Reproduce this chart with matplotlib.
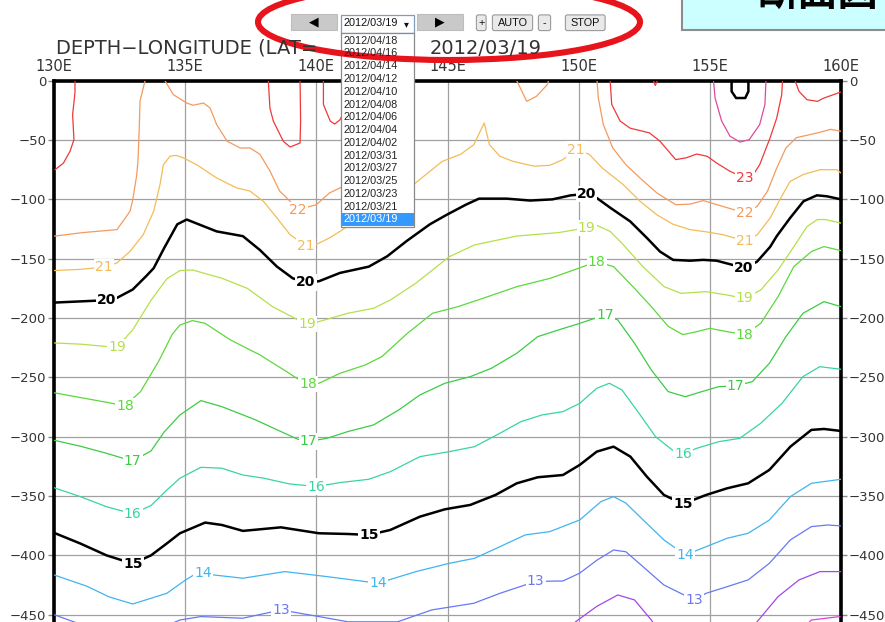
import numpy as np
import matplotlib
matplotlib.use("Agg")
import matplotlib.pyplot as plt
from matplotlib.patches import Rectangle, Ellipse, FancyBboxPatch

# isotherm depths (m) along the section, longitude in deg E
lon_11 = [158.2, 158.87, 159.96]
dep_11 = [-470, -454.5, -451.6]

lon_12 = [149.3, 149.88, 150.69, 151.49, 152.13, 152.77, 153.3, 154.5, 155.5, 156.2, 156.8, 157.6, 158.4, 159.2, 160]
dep_12 = [-475, -456, -443, -433.4, -437.6, -454.5, -472, -485, -486, -478, -456, -434.8, -420.7, -413.7, -413.7]

lon_13 = [130, 131, 132, 133, 134, 134.8, 135.6, 137.2, 138.65, 140.1, 141.2, 143.1, 144.4, 146.0, 147.0, 148.36,
          149.4, 150.04, 150.7, 151.33, 151.8, 152.45, 153.25, 154.4, 154.86, 155.66, 156.46, 157.27, 158.07, 158.87,
          159.5, 160]
dep_13 = [-450, -458, -466, -469, -462, -454.5, -451.6, -453, -446, -451.6, -456, -456, -446, -440.4, -432, -422,
          -421.6, -415, -404, -395.5, -397, -409.5, -425, -437.6, -432, -426.4, -420.7, -406.7, -387, -375.8,
          -374.4, -375.2]

lon_14 = [130, 131.25, 132.1, 133.0, 134.3, 135.0, 135.44, 135.68, 136.08, 137.2, 138.8, 140.4, 142.35, 143.8,
          145.07, 146.03, 147.0, 147.96, 148.9, 150.04, 150.85, 151.33, 151.8, 152.45, 153.25, 154.06, 154.86,
          155.66, 156.46, 157.27, 158.07, 158.87, 160]
dep_14 = [-416.5, -426, -435, -441, -432, -421, -415, -414.6, -416.5, -419.3, -413.7, -417.9, -423.5, -413.7,
          -406.7, -402.5, -392.7, -382.8, -380, -370.2, -354.7, -350.5, -356, -370, -387, -399.7, -392.7,
          -385.6, -381.4, -370.2, -350.5, -339.3, -335.9]

lon_15 = [130, 131, 132, 133, 133.7, 134.3, 134.8, 135.76, 136.4, 137.2, 138.65, 140.1, 141.2, 142.0, 142.82,
          143.95, 144.9, 145.87, 146.83, 147.64, 148.44, 149.4, 150.04, 150.69, 151.33, 151.97, 152.6, 153.25,
          153.97, 154.86, 155.66, 156.46, 157.27, 158.07, 158.87, 159.35, 160]
dep_15 = [-381, -390, -400, -407, -400, -390, -381.4, -372.4, -374.4, -379.4, -376.4, -381.4, -382, -382.8, -378.6,
          -367.4, -361.2, -357.5, -349.1, -339.3, -334.2, -332.3, -323.8, -312.6, -308.4, -316.8, -333.7, -349.1,
          -356.7, -349.1, -343.5, -339.3, -328, -308.4, -294.3, -293.5, -295.2]

lon_16 = [130, 131, 132, 133, 133.7, 134.3, 134.8, 135.6, 136.4, 137.2, 138.0, 138.97, 140.0, 140.9, 142.0,
          142.82, 143.95, 145.07, 146.03, 147.0, 147.8, 148.6, 149.4, 150.04, 150.69, 151.17, 151.65, 152.3,
          152.93, 153.57, 153.97, 154.5, 155.34, 156.14, 156.94, 157.75, 158.55, 159.19, 160]
dep_16 = [-343, -350.5, -359, -365, -358, -345, -335, -325.8, -326.6, -332.3, -335, -339.8, -342, -338.7, -335.9,
          -329.5, -316.8, -312.6, -308.4, -297.1, -287.3, -281.7, -278.9, -271.9, -259.2, -255, -260.6, -280.3,
          -300, -311.2, -314.6, -309.8, -304.2, -301.4, -288.7, -271.9, -249.4, -241, -243.2]

lon_17 = [130, 131, 132, 133, 133.7, 134.2, 134.8, 135.6, 136.4, 137.69, 138.65, 139.3, 139.7, 140.4, 141.2,
          142.18, 143.14, 143.95, 144.9, 145.87, 146.67, 147.64, 148.44, 149.24, 150.04, 151.0, 151.49, 152.13,
          152.77, 153.41, 154.06, 154.7, 155.34, 155.98, 156.62, 157.27, 157.9, 158.55, 159.35, 160]
dep_17 = [-303, -308, -314, -320.6, -312, -296, -281.7, -269.6, -274.7, -285.9, -295.7, -302.2, -304, -301.4,
          -295.7, -290.1, -277.5, -264.8, -255, -249.4, -242.4, -229.7, -215.7, -210, -204.5, -197.4, -201.6,
          -221.3, -243.8, -262, -266.3, -262, -257.8, -257.3, -253.6, -238.2, -215.7, -196, -186.2, -190.4]

lon_18 = [130, 131, 132, 132.7, 133.3, 134.0, 134.5, 134.8, 135.28, 135.76, 136.73, 137.85, 138.97, 139.45, 139.7,
          140.1, 140.9, 141.86, 142.5, 143.47, 144.43, 145.4, 146.35, 147.64, 148.92, 149.88, 150.69, 151.33,
          152.13, 152.77, 153.41, 153.97, 154.5, 155.0, 155.66, 156.33, 156.94, 157.6, 158.2, 158.87, 159.35, 160]
dep_18 = [-263, -267, -271, -274, -262, -236, -214, -205.9, -202.2, -204.5, -218.5, -231.1, -246.6, -253.6, -255.6,
          -255, -246.6, -239.6, -232.5, -212.9, -196, -190.4, -183.4, -173.6, -166.5, -159, -152.5, -156.7,
          -175, -190.4, -207, -214, -211.5, -208.7, -211.5, -214, -204.5, -182, -156.7, -144, -139.8, -143.2]

lon_19 = [130, 131, 132, 132.4, 133, 133.7, 134.3, 134.8, 135.28, 136.4, 137.37, 138.33, 139.3, 139.66, 140.1,
          141.2, 142.18, 142.82, 143.79, 144.75, 145.07, 146.03, 147.64, 149.24, 150.3, 150.7, 151.2, 151.65,
          152.45, 153.25, 153.9, 154.86, 155.66, 156.33, 156.94, 157.6, 158.2, 158.7, 159.1, 159.4, 160]
dep_19 = [-221, -222, -224, -224.5, -210, -185, -167, -160, -159.5, -166.5, -175, -190.4, -201.6, -205.3, -203,
          -196, -191.8, -184.8, -170.7, -153.9, -148.3, -138.4, -130.9, -128, -124, -122, -127, -137,
          -156.7, -173.5, -179.2, -177.8, -180.6, -183.5, -176.4, -159.5, -140, -123, -117, -117, -120]

lon_20 = [130, 131, 132, 132.4, 133, 133.5, 133.8, 134.2, 134.7, 135.06, 135.4, 136.2, 137.2, 137.85, 138.5,
          139.1, 139.6, 140.1, 140.9, 142.0, 142.7, 143.45, 144.33, 144.97, 145.7, 146.2, 147.26, 148.15, 149.0,
          149.7, 150.3, 150.7, 151.2, 151.96, 152.6, 153.1, 153.6, 154.25, 154.75, 155.26, 156.0, 156.3, 156.8,
          157.3, 157.55, 158.06, 158.57, 159.08, 159.46, 160]
dep_20 = [-187, -186, -185, -183, -176, -165, -158, -141, -121, -117, -120, -127, -131, -142.7, -156.7,
          -166.5, -170, -169, -162, -156.7, -148, -135, -121, -113, -104.5, -99.4, -99.4, -101, -100,
          -96.6, -95.5, -99, -107, -118.5, -132.5, -144, -151, -151.7, -151, -151.7, -156, -158, -152.5,
          -140, -131, -115.7, -101.6, -96.6, -97.4, -100]

lon_21 = [130, 131, 131.9, 132.4, 132.9, 133.4, 133.8, 134.04, 134.17, 134.42, 134.65, 134.93, 135.44, 136.2,
          136.97, 137.47, 137.98, 138.5, 139.0, 139.6, 140.0, 140.5, 140.9, 141.8, 142.7, 143.7, 144.8, 145.5,
          146.0, 146.4, 146.6, 147.0, 147.5, 148.3, 148.9, 149.4, 149.9, 150.4, 150.9, 151.7, 152.34, 152.98,
          153.6, 154.25, 154.9, 155.5, 156.35, 156.8, 157.3, 157.7, 158.06, 158.57, 159.2, 159.84, 160]
dep_21 = [-160, -159, -157, -153.6, -143.8, -129.8, -110, -87.6, -70.8, -63.7, -62.9, -65, -70.8, -82,
          -90.4, -93, -101.6, -115.7, -129.8, -139, -138, -132.5, -127, -113, -99, -87.6, -68, -62,
          -54, -35.6, -54, -63.7, -68, -72, -71.3, -66.5, -58, -62, -73.6, -87.6, -101.6, -113,
          -121, -125.5, -127.5, -129.8, -135, -130, -115.7, -99, -84.8, -79, -75, -75, -77.8]

lon_22a = [130, 131.1, 132.4, 132.9, 133.0, 133.15, 133.2, 133.25, 133.28, 133.47]
dep_22a = [-131, -128, -125.5, -110, -100.5, -80, -68, -40, -17, 0]
lon_22b = [134.23, 134.55, 135.06, 135.3, 135.7, 135.95, 136.2, 136.6, 137.1, 137.47, 137.85, 138.23, 138.6,
           139.0, 139.3, 140.0, 140.5, 141.16, 141.8, 142.5, 143.0, 143.4]
dep_22b = [0, -11.8, -18.8, -20.7, -18.8, -23, -37, -51, -56.7, -56.7, -62, -76, -93,
           -101.6, -108.7, -104.5, -94.6, -87.6, -75, -50, -25, 0]
lon_22c = [147.64, 148.02, 148.4, 148.8, 148.85]
dep_22c = [0, -17.4, -13, -3.4, 0]
lon_22d = [150.7, 150.75, 150.94, 151.3, 151.8, 152.34, 152.98, 153.7, 154.25, 154.75, 155.5, 156.35, 156.8,
           157.2, 157.55, 157.9, 158.3, 159.1, 159.6, 160]
dep_22d = [0, -14.6, -37, -56.7, -70.8, -82, -94.6, -104.5, -104, -101, -106, -111.5, -106,
           -93, -73.6, -56.7, -48, -44, -41, -42.6]

lon_23a = [130.8, 130.8, 130.71, 130.76, 130.61, 130.36, 130.04]
dep_23a = [0, -10, -28.6, -49.7, -59.5, -69.4, -75]
lon_23b = [138.17, 138.23, 138.36, 138.74, 139.0, 139.38, 139.4, 139.38]
dep_23b = [0, -23, -34, -51, -55.9, -52.5, -34, 0]
lon_23c = [140.27, 140.27, 140.53, 140.7, 140.9, 141.2, 141.4]
dep_23c = [0, -20, -34, -36.5, -33, -20, 0]
lon_23d = [151.2, 151.26, 151.58, 151.96, 152.7, 153.1, 153.7, 154.1, 154.5, 154.9, 155.26, 155.77, 156.35,
           156.66, 156.9, 157.3, 157.55, 157.74, 157.77]
dep_23d = [0, -20, -34, -40, -44, -51, -66.5, -65, -61.8, -63.7, -69.4, -76.4, -82,
           -79, -70.8, -48, -31.4, -11.8, 0]
lon_23e = [152.85, 152.92, 153.0]
dep_23e = [0, -4, 0]
lon_23f = [158.25, 158.4, 158.7, 159.1, 159.35, 160]
dep_23f = [0, -9, -16, -17.4, -14.6, -9.5]

lon_24 = [155.14, 155.2, 155.45, 155.77, 156.15, 156.5, 156.9, 157.1, 157.14]
dep_24 = [0, -14.6, -34, -46.8, -51.7, -49.7, -37, -20, 0]

lon_25 = [155.83, 155.83, 156.0, 156.35, 156.47, 156.47]
dep_25 = [0, -9, -14.6, -14.6, -9, 0]

lon_ticks = [130, 135, 140, 145, 150, 155, 160]
lon_labels = ["130E", "135E", "140E", "145E", "150E", "155E", "160E"]
depth_ticks = [0, -50, -100, -150, -200, -250, -300, -350, -400, -450]

dates = ["2012/04/18", "2012/04/16", "2012/04/14", "2012/04/12", "2012/04/10", "2012/04/08", "2012/04/06",
         "2012/04/04", "2012/04/02", "2012/03/31", "2012/03/27", "2012/03/25", "2012/03/23", "2012/03/21",
         "2012/03/19"]
selected = "2012/03/19"

W, H = 885, 622
fig = plt.figure(figsize=(W / 100, H / 100), dpi=100)
fig.patch.set_facecolor("white")

# main section axes (bottom runs past the edge of the screenshot)
ax = fig.add_axes([54 / W, 1 - 674 / H, 787 / W, (674 - 80.7) / H])
ax.set_xlim(130, 160)
ax.set_ylim(-500, 0)
ax.set_xticks(lon_ticks)
ax.set_xticklabels(lon_labels)
ax.set_yticks(depth_ticks)
ax.xaxis.set_ticks_position("top")
ax.tick_params(axis="x", length=0, pad=5, labelsize=10.5, labelcolor="#333333")
ax.tick_params(axis="y", left=True, right=True, labelleft=True, labelright=True,
               length=4.5, width=1, color="#888888", pad=1, labelsize=9.5, labelcolor="#333333")
ax.grid(True, color="#a0a0a0", lw=0.9)
ax.set_axisbelow(True)
for side in ["top", "left", "right"]:
    ax.spines[side].set_linewidth(2.6)
    ax.spines[side].set_color("black")
ax.spines["bottom"].set_visible(False)


def isotherm(lons, deps, color, lw=0.9, labels=(), text=None, bold=False):
    ax.plot(lons, deps, color=color, lw=lw, zorder=3, solid_joinstyle="round")
    for L in labels:
        d = np.interp(L, lons, deps)
        ax.text(L, d, text, ha="center", va="center", color=color, fontsize=10,
                fontweight="bold" if bold else "normal", zorder=4,
                bbox=dict(boxstyle="square,pad=0.08", fc="white", ec="none"))


c_black = "black"
isotherm(lon_11, dep_11, "#e040d8")
isotherm(lon_12, dep_12, "#a048e8")
isotherm(lon_13, dep_13, "#6878f4", labels=[138.65, 148.36, 154.4], text="13")
isotherm(lon_14, dep_14, "#40b4f0", labels=[135.68, 142.35, 154.06], text="14")
isotherm(lon_15, dep_15, c_black, lw=1.8, labels=[133, 142.0, 153.97], text="15", bold=True)
isotherm(lon_16, dep_16, "#38d4a4", labels=[133, 140.0, 153.97], text="16")
isotherm(lon_17, dep_17, "#3ccc44", labels=[133, 139.7, 151.0, 155.98], text="17")
isotherm(lon_18, dep_18, "#5cd83c", labels=[132.7, 139.7, 150.69, 156.33], text="18")
isotherm(lon_19, dep_19, "#b5e04a", labels=[132.4, 139.66, 150.3, 156.33], text="19")
isotherm(lon_20, dep_20, c_black, lw=1.8, labels=[132.0, 139.6, 150.3, 156.3], text="20", bold=True)
isotherm(lon_21, dep_21, "#f2bc58", labels=[131.9, 139.6, 149.9, 156.35], text="21")
isotherm(lon_22a, dep_22a, "#f59a5c")
isotherm(lon_22b, dep_22b, "#f59a5c", labels=[139.3], text="22")
isotherm(lon_22c, dep_22c, "#f59a5c")
isotherm(lon_22d, dep_22d, "#f59a5c", labels=[156.35], text="22")
isotherm(lon_23a, dep_23a, "#f03838")
isotherm(lon_23b, dep_23b, "#f03838")
isotherm(lon_23c, dep_23c, "#f03838")
isotherm(lon_23d, dep_23d, "#f03838", labels=[156.35], text="23")
isotherm(lon_23e, dep_23e, "#f03838")
isotherm(lon_23f, dep_23f, "#f03838")
isotherm(lon_24, dep_24, "#e0489c")
isotherm(lon_25, dep_25, c_black, lw=1.8)

# page overlay in pixel coordinates (title, controls, highlight)
ov = fig.add_axes([0, 0, 1, 1], zorder=10)
ov.set_xlim(0, W)
ov.set_ylim(H, 0)
ov.axis("off")

ov.text(56, 48, "DEPTH\u2212LONGITUDE (LAT=", fontsize=14, color="#333333", va="center", ha="left")
ov.text(430, 48, "2012/03/19", fontsize=14, color="#333333", va="center", ha="left")

ui = ["Liberation Sans", "DejaVu Sans"]

# arrow buttons
for x0, w, arrow in [(291, 46, "\u25C0"), (417, 46, "\u25B6")]:
    ov.add_patch(Rectangle((x0, 14), w, 15.5, fc="#c9c9c9", ec="#bdbdbd", lw=0.8))
    ov.text(x0 + w / 2, 21.5, arrow, family=["DejaVu Sans"], fontsize=9, ha="center", va="center", color="black")

# select box
ov.add_patch(Rectangle((341, 15), 73, 17.5, fc="white", ec="#7f9db9", lw=0.9))
ov.text(344, 23.5, selected, family=ui, fontsize=7.8, ha="left", va="center", color="#111111")
ov.text(406, 24, "\u25BE", family=["DejaVu Sans"], fontsize=7, ha="center", va="center", color="#111111")

# small buttons
for x0, w, lab in [(477, 8.5, "+"), (493, 39, "AUTO"), (539, 11, "-"), (566, 38.5, "STOP")]:
    ov.add_patch(FancyBboxPatch((x0, 15.5), w, 14.5, boxstyle="round,pad=0.6,rounding_size=2",
                                fc="#e9e9e9", ec="#9a9a9a", lw=0.8))
    ov.text(x0 + w / 2, 23, lab, family=ui, fontsize=7.8, ha="center", va="center", color="#111111")

# open date list
ov.add_patch(Rectangle((341, 33), 73, 194, fc="white", ec="#8a8a8a", lw=0.9))
row = 12.76
for i, d in enumerate(dates):
    y = 40.7 + i * row
    if d == selected:
        ov.add_patch(Rectangle((341.5, y - 6.3), 72, 12.5, fc="#3399ff", ec="none"))
        ov.text(343, y, d, family=ui, fontsize=7.8, ha="left", va="center", color="white")
    else:
        ov.text(343, y, d, family=ui, fontsize=7.8, ha="left", va="center", color="#222222")

# page heading box, top right
ov.add_patch(Rectangle((682, -10), 215, 39.5, fc="#ccffff", ec="#8c8c8c", lw=1.5, clip_on=False))
ov.text(818, 6, "断面図", family=["Noto Sans CJK JP", "DejaVu Sans"], fontsize=29,
        fontweight="bold", ha="center", va="baseline", color="black", clip_on=True)

# red highlight ring
ov.add_patch(Ellipse((449, 22), 382, 76, fc="none", ec="#e8141c", lw=4.4, clip_on=False))

fig.savefig("out.png", dpi=100)
